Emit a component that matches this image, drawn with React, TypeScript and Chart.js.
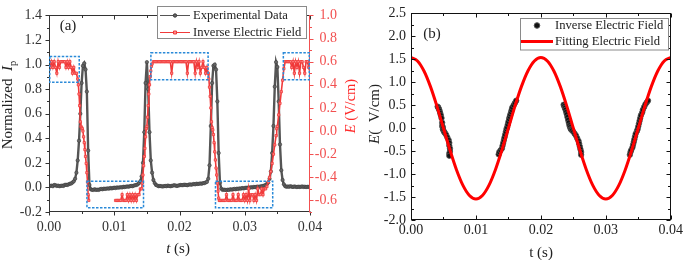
import React, { useEffect, useRef } from "react";
import { Chart, registerables } from "chart.js";

Chart.register(...registerables);

const SERIF = '"Liberation Serif", "Times New Roman", Times, serif';

// ---------------- Panel (a) data ----------------
// Experimental normalized Ip, sampled every expStep seconds starting at t = 0
const expStep = 0.0002;
const expIp = [
  0.01, 0.012, 0.015, 0.01, 0.02, 0.018, 0.012, 0.015, 0.01, 0.012, 0.015, 0.012, 0.02, 0.022, 0.02, 0.025, 0.03, 0.032, 0.04, 0.05,
  0.07, 0.12, 0.22, 0.38, 0.6, 0.85, 0.99, 1.01, 0.96, 0.78, 0.3, 0.02, -0.015,
  -0.02, -0.02, -0.015, -0.02, -0.018, -0.02, -0.015, -0.012, -0.015, -0.01, -0.012, -0.01, -0.008, -0.01, -0.005, -0.008, -0.005,
  -0.002, -0.005, 0.0, -0.002, 0.0, 0.002, 0.0, 0.005, 0.003, 0.006, 0.008, 0.006, 0.01, 0.012, 0.01, 0.015, 0.018,
  0.02, 0.025, 0.035, 0.05, 0.09, 0.2, 0.45, 0.85, 1.02, 0.8, 0.45, 0.22, 0.12, 0.06, 0.035,
  0.02, 0.015, 0.01, 0.012, 0.01, 0.008, 0.01, 0.012, 0.01, 0.015, 0.012, 0.01, 0.012, 0.015, 0.018, 0.015, 0.012, 0.015, 0.018, 0.02,
  0.018, 0.02, 0.022, 0.02, 0.018, 0.022, 0.025, 0.022, 0.025, 0.028, 0.025, 0.03, 0.028, 0.03, 0.032, 0.03, 0.035, 0.035, 0.04,
  0.045, 0.07, 0.18, 0.5, 0.85, 0.99, 1.0, 0.96, 0.7, 0.28, 0.04, -0.01,
  -0.02, -0.018, -0.02, -0.022, -0.018, -0.02, -0.015, -0.018, -0.015, -0.012, -0.015, -0.01, -0.012, -0.008, -0.01, -0.005,
  -0.008, -0.005, -0.002, -0.004, 0.0, -0.002, 0.002, 0.0, 0.004, 0.002, 0.005, 0.006, 0.005, 0.008, 0.01, 0.012,
  0.015, 0.02, 0.028, 0.04, 0.07, 0.13, 0.28, 0.5, 0.82, 1.02, 0.98, 0.7, 0.35, 0.14, 0.06, 0.025,
  0.01, 0.005, 0.008, 0.005, 0.01, 0.006, 0.004, 0.008, 0.005, 0.003, 0.006, 0.004, 0.005, 0.008, 0.004, 0.006, 0.003, 0.005, 0.004, 0.006,
];

// Inverse electric field (right axis), null = no data
const invT = [
  0, 0.0002, 0.0004, 0.0006, 0.0008, 0.001, 0.0012, 0.0014, 0.0016, 0.0018, 0.002, 0.0022, 0.0024, 0.0026, 0.0028, 0.003, 0.0032, 0.0034, 0.0036, 0.0038, 0.004, 0.0042,
  0.0044, 0.0045, 0.0046, 0.0047, 0.0048, 0.0049, 0.005, 0.0051, 0.0052, 0.0053, 0.0054, 0.0055, 0.0056, 0.0057, 0.0058, 0.0059, 0.006, 0.0061,
  0.008,
  0.0102, 0.0104, 0.0106, 0.0108, 0.011, 0.0112, 0.0114, 0.0116, 0.0118, 0.012, 0.0122, 0.0124, 0.0126, 0.0128, 0.013, 0.0132, 0.0134, 0.0136, 0.0138, 0.014, 0.0142,
  0.0143, 0.0144, 0.0145, 0.0146, 0.0147, 0.0148, 0.0149, 0.015, 0.0151, 0.0152, 0.0153, 0.0154, 0.0155, 0.0156, 0.0157, 0.0158, 0.016,
  0.0162, 0.0164, 0.0166, 0.0168, 0.017, 0.0172, 0.0174, 0.0176, 0.0178, 0.018, 0.0182, 0.0184, 0.0186, 0.0188, 0.019, 0.0192, 0.0194, 0.0196, 0.0198, 0.02, 0.0202,
  0.0204, 0.0206, 0.0208, 0.021, 0.0212, 0.0214, 0.0216, 0.0218, 0.022, 0.0222, 0.0224, 0.0226, 0.0228, 0.023, 0.0232, 0.0234, 0.0236, 0.0238, 0.024, 0.0242, 0.0244,
  0.0245, 0.0246, 0.0247, 0.0248, 0.0249, 0.025, 0.0251, 0.0252, 0.0253, 0.0254, 0.0255, 0.0256, 0.0257, 0.0258, 0.0259, 0.026, 0.0261,
  0.0262, 0.0264, 0.0266, 0.0268, 0.027, 0.0272, 0.0274, 0.0276, 0.0278, 0.028, 0.0282, 0.0284, 0.0286, 0.0288, 0.029, 0.0292, 0.0294, 0.0296,
  0.0298, 0.03, 0.0302, 0.0304, 0.0306, 0.0308, 0.031, 0.0312, 0.0314, 0.0316, 0.0318, 0.032, 0.0322, 0.0324, 0.0326, 0.0328, 0.033, 0.0332,
  0.0334, 0.0336, 0.0338, 0.034, 0.0342, 0.0344, 0.0346, 0.0348, 0.0349, 0.035, 0.0352, 0.0354, 0.0356, 0.0358, 0.036, 0.0362,
  0.0364, 0.0366, 0.0368, 0.037, 0.0372, 0.0374, 0.0376, 0.0378, 0.038, 0.0382, 0.0384, 0.0386, 0.0388, 0.039, 0.0392, 0.0394, 0.0396, 0.0398, 0.04,
];
const invE = [
  0.6, 0.55, 0.6, 0.55, 0.6, 0.55, 0.5, 0.6, 0.55, 0.6, 0.6, 0.6, 0.6, 0.55, 0.6, 0.55, 0.6, 0.55, 0.5, 0.55, 0.5, 0.5,
  0.45, 0.4, 0.32, 0.22, 0.08, 0.04, 0.03, 0.02, 0.0, -0.05, -0.1, -0.16, -0.22, -0.28, -0.36, -0.44, -0.55, -0.6,
  null,
  -0.6, -0.6, -0.6, -0.6, -0.6, -0.55, -0.6, -0.6, -0.6, -0.55, -0.6, -0.55, -0.6, -0.55, -0.6, -0.55, -0.6, -0.55, -0.55, -0.5, -0.5,
  -0.45, -0.38, -0.3, -0.22, -0.15, -0.05, 0.02, 0.04, 0.12, 0.22, 0.32, 0.4, 0.47, 0.52, 0.56, 0.58, 0.6,
  0.6, 0.6, 0.6, 0.6, 0.6, 0.6, 0.6, 0.6, 0.6, 0.6, 0.6, 0.6, 0.6, 0.5, 0.6, 0.6, 0.6, 0.6, 0.6, 0.6, 0.6,
  0.6, 0.6, 0.6, 0.6, 0.5, 0.6, 0.6, 0.6, 0.6, 0.6, 0.5, 0.6, 0.55, 0.6, 0.5, 0.55, 0.6, 0.55, 0.5, 0.55, 0.5,
  0.45, 0.38, 0.3, 0.2, 0.08, 0.03, 0.01, -0.03, -0.1, -0.18, -0.25, -0.32, -0.38, -0.45, -0.52, -0.58, -0.6,
  -0.6, -0.6, -0.6, -0.6, -0.6, -0.55, -0.6, -0.6, -0.6, -0.6, -0.55, -0.6, -0.6, -0.6, -0.55, -0.6, -0.6, -0.6,
  -0.55, -0.6, -0.55, -0.6, -0.5, -0.6, -0.55, -0.55, -0.6, -0.55, -0.6, -0.5, -0.55, -0.55, -0.5, -0.55, -0.5, -0.5,
  -0.48, -0.44, -0.4, -0.35, -0.28, -0.2, -0.12, -0.04, 0.02, 0.04, 0.14, 0.24, 0.34, 0.44, 0.54, 0.6,
  0.6, 0.6, 0.6, 0.6, 0.55, 0.6, 0.5, 0.6, 0.55, 0.6, 0.5, 0.6, 0.6, 0.55, 0.5, 0.6, 0.6, 0.55, 0.6,
];

const tTicks = [0, 0.01, 0.02, 0.03, 0.04];
const tMinor = [0.005, 0.015, 0.025, 0.035];
const ipTicks = [-0.2, 0, 0.2, 0.4, 0.6, 0.8, 1.0, 1.2, 1.4];
const ipMinor = [-0.1, 0.1, 0.3, 0.5, 0.7, 0.9, 1.1, 1.3];
const eTicksA = [-0.6, -0.4, -0.2, 0, 0.2, 0.4, 0.6, 0.8, 1.0];
const eMinorA = [-0.7, -0.5, -0.3, -0.1, 0.1, 0.3, 0.5, 0.7, 0.9];

// dashed highlight boxes (t range and Ip range)
const boxT0 = [0, 0.0057, 0.0155, 0.0254, 0.0358];
const boxT1 = [0.00475, 0.0146, 0.0245, 0.0344, 0.04];
const boxIp0 = [0.855, -0.165, 0.877, -0.165, 0.877];
const boxIp1 = [1.065, 0.05, 1.097, 0.05, 1.097];

// ---------------- Panel (b) data ----------------
const fitT = [
  0, 0.001, 0.002, 0.003, 0.004, 0.005, 0.006, 0.007, 0.008, 0.009, 0.01, 0.011, 0.012, 0.013, 0.014, 0.015, 0.016, 0.017, 0.018, 0.019, 0.02,
  0.021, 0.022, 0.023, 0.024, 0.025, 0.026, 0.027, 0.028, 0.029, 0.03, 0.031, 0.032, 0.033, 0.034, 0.035, 0.036, 0.037, 0.038, 0.039, 0.04,
];
const fitE = [
  1.54, 1.465, 1.246, 0.905, 0.476, 0, -0.476, -0.905, -1.246, -1.465, -1.54, -1.465, -1.246, -0.905, -0.476, 0, 0.476, 0.905, 1.246, 1.465, 1.54,
  1.465, 1.246, 0.905, 0.476, 0, -0.476, -0.905, -1.246, -1.465, -1.54, -1.465, -1.246, -0.905, -0.476, 0, 0.476, 0.905, 1.246, 1.465, 1.54,
];
const ptsT = [
  0.0041, 0.0042, 0.0043, 0.0044, 0.0045, 0.0046, 0.0047, 0.0048, 0.0048, 0.0049, 0.0049, 0.005, 0.0051, 0.0052, 0.0054, 0.0056, 0.0058, 0.0059, 0.0059, 0.006, 0.006, 0.0059, 0.0059,
  0.0135, 0.0136, 0.0138, 0.014, 0.0141, 0.0142, 0.0143, 0.0144, 0.0145, 0.0146, 0.0147, 0.0148, 0.0149, 0.015, 0.0151, 0.0152, 0.0153, 0.0154, 0.0155, 0.0156, 0.0158, 0.016, 0.0162,
  0.0235, 0.0236, 0.0237, 0.0238, 0.0239, 0.024, 0.0241, 0.0242, 0.0243, 0.0244, 0.0245, 0.0246, 0.0247, 0.0248, 0.025, 0.0252, 0.0254, 0.0256, 0.0258, 0.0259, 0.026, 0.0261, 0.0262, 0.0262,
  0.0337, 0.0338, 0.0339, 0.0341, 0.0342, 0.0343, 0.0344, 0.0345, 0.0346, 0.0348, 0.0349, 0.035, 0.0351, 0.0352, 0.0353, 0.0354, 0.0356, 0.0357, 0.0359, 0.0361, 0.0363, 0.0365,
];
const ptsE = [
  0.47, 0.45, 0.42, 0.38, 0.33, 0.28, 0.22, 0.12, 0.05, 0.02, -0.02, -0.05, -0.08, -0.1, -0.14, -0.2, -0.26, -0.32, -0.38, -0.44, -0.5, -0.55, -0.6,
  -0.57, -0.52, -0.48, -0.44, -0.38, -0.32, -0.26, -0.2, -0.14, -0.08, -0.02, 0.02, 0.08, 0.14, 0.2, 0.25, 0.3, 0.35, 0.4, 0.45, 0.5, 0.55, 0.6,
  0.51, 0.48, 0.44, 0.4, 0.35, 0.3, 0.24, 0.18, 0.12, 0.06, 0.02, -0.02, -0.03, -0.05, -0.08, -0.12, -0.16, -0.22, -0.28, -0.34, -0.4, -0.46, -0.52, -0.58,
  -0.58, -0.52, -0.48, -0.42, -0.36, -0.3, -0.24, -0.18, -0.12, -0.06, -0.02, 0.04, 0.1, 0.16, 0.22, 0.28, 0.34, 0.4, 0.46, 0.52, 0.56, 0.6,
];
const eTicksB = [-2, -1.5, -1, -0.5, 0, 0.5, 1, 1.5, 2, 2.5];
const eMinorB = [-1.75, -1.25, -0.75, -0.25, 0.25, 0.75, 1.25, 1.75, 2.25];

// ---------------- helpers ----------------
type Part = { t: string; italic?: boolean; sub?: boolean };
type RichText = { x: number; y: number; rot?: number; size: number; color: string; parts: Part[] };

function drawRich(ctx: CanvasRenderingContext2D, r: RichText) {
  ctx.save();
  ctx.translate(r.x, r.y);
  if (r.rot) ctx.rotate(r.rot);
  let total = 0;
  const fonts = r.parts.map((p) => {
    const size = p.sub ? r.size * 0.7 : r.size;
    const f = `${p.italic ? "italic " : ""}${size}px ${SERIF}`;
    ctx.font = f;
    const w = ctx.measureText(p.t).width;
    total += w;
    return { f, w };
  });
  let x = -total / 2;
  ctx.textBaseline = "middle";
  ctx.textAlign = "left";
  ctx.fillStyle = r.color;
  r.parts.forEach((p, i) => {
    ctx.font = fonts[i].f;
    ctx.fillText(p.t, x, p.sub ? r.size * 0.32 : 0);
    x += fonts[i].w;
  });
  ctx.restore();
}

type AxisSpec = {
  side: "left" | "right" | "top" | "bottom";
  scale: string;
  majors: number[];
  minors: number[];
  dir: "in" | "out";
  color: string;
};

function framePlugin(specs: AxisSpec[], extra: (chart: any) => void) {
  return {
    id: "frameAndText",
    afterDatasetsDraw(chart: any) {
      const ctx: CanvasRenderingContext2D = chart.ctx;
      const a = chart.chartArea;
      const L = Math.round(a.left) + 0.5;
      const R = Math.round(a.right) - 0.5;
      const T = Math.round(a.top) + 0.5;
      const B = Math.round(a.bottom) - 0.5;
      ctx.save();
      ctx.lineWidth = 1;
      for (const s of specs) {
        const sc = chart.scales[s.scale];
        ctx.strokeStyle = s.color;
        ctx.beginPath();
        if (s.side === "left") { ctx.moveTo(L, T - 0.5); ctx.lineTo(L, B + 0.5); }
        if (s.side === "right") { ctx.moveTo(R, T - 0.5); ctx.lineTo(R, B + 0.5); }
        if (s.side === "top") { ctx.moveTo(L - 0.5, T); ctx.lineTo(R + 0.5, T); }
        if (s.side === "bottom") { ctx.moveTo(L - 0.5, B); ctx.lineTo(R + 0.5, B); }
        const sgn = s.dir === "out" ? 1 : -1;
        const mark = (v: number, len: number) => {
          const p = Math.round(sc.getPixelForValue(v)) + 0.5;
          if (s.side === "left") { ctx.moveTo(L, p); ctx.lineTo(L - sgn * len, p); }
          if (s.side === "right") { ctx.moveTo(R, p); ctx.lineTo(R + sgn * len, p); }
          if (s.side === "top") { ctx.moveTo(p, T); ctx.lineTo(p, T - sgn * len); }
          if (s.side === "bottom") { ctx.moveTo(p, B); ctx.lineTo(p, B + sgn * len); }
        };
        s.majors.forEach((v) => mark(v, 4));
        s.minors.forEach((v) => mark(v, 2.5));
        ctx.stroke();
      }
      ctx.restore();
      extra(chart);
    },
  };
}

function fixedTicks(values: number[]) {
  return (scale: any) => {
    scale.ticks = values.map((v) => ({ value: v }));
  };
}

const LEGEND_FONT = `12.6px ${SERIF}`;

// ---------------- Panel (a) ----------------
function PanelA() {
  const ref = useRef<HTMLCanvasElement | null>(null);
  useEffect(() => {
    const canvas = ref.current!;
    const expData = expIp.map((v, i) => ({ x: i * expStep, y: v }));
    const invData = invT.map((t, i) => ({ x: t, y: invE[i] }));
    const red = "#f03a3a";
    const grey = "#555555";

    const specs: AxisSpec[] = [
      { side: "left", scale: "y", majors: ipTicks, minors: ipMinor, dir: "out", color: "#333" },
      { side: "bottom", scale: "x", majors: tTicks, minors: tMinor, dir: "out", color: "#333" },
      { side: "top", scale: "x", majors: tTicks, minors: tMinor, dir: "in", color: "#333" },
      { side: "right", scale: "y2", majors: eTicksA, minors: eMinorA, dir: "out", color: "#f25050" },
    ];

    const extra = (chart: any) => {
      const ctx: CanvasRenderingContext2D = chart.ctx;
      const xs = chart.scales.x;
      const ys = chart.scales.y;
      ctx.save();
      // dashed boxes
      ctx.strokeStyle = "#2a8ad8";
      ctx.lineWidth = 1.5;
      ctx.setLineDash([2.5, 1.5]);
      boxT0.forEach((t0, i) => {
        const x0 = xs.getPixelForValue(t0);
        const x1 = xs.getPixelForValue(boxT1[i]);
        const y0 = ys.getPixelForValue(boxIp1[i]);
        const y1 = ys.getPixelForValue(boxIp0[i]);
        ctx.strokeRect(x0 + 0.75, y0, x1 - x0 - 1.5, y1 - y0);
      });
      ctx.setLineDash([]);
      // legend
      ctx.fillStyle = "#fff";
      ctx.fillRect(157.5, 6.5, 149, 32);
      ctx.strokeStyle = "#8a8a8a";
      ctx.lineWidth = 1;
      ctx.strokeRect(157.5, 6.5, 149, 32);
      const ds = chart.data.datasets;
      const rows = [
        { y: 15.5, d: ds[1] },
        { y: 32.5, d: ds[0] },
      ];
      rows.forEach((r) => {
        ctx.strokeStyle = r.d.borderColor;
        ctx.lineWidth = 1;
        ctx.beginPath();
        ctx.moveTo(160, r.y);
        ctx.lineTo(190, r.y);
        ctx.stroke();
        ctx.fillStyle = r.d.pointBackgroundColor;
        ctx.strokeStyle = r.d.pointBorderColor;
        ctx.beginPath();
        if (r.d.pointStyle === "rect") ctx.rect(173.5, r.y - 1.5, 3, 3);
        else ctx.arc(175, r.y, 1.7, 0, Math.PI * 2);
        ctx.fill();
        ctx.stroke();
        ctx.font = LEGEND_FONT;
        ctx.fillStyle = "#222";
        ctx.textBaseline = "middle";
        ctx.textAlign = "left";
        ctx.fillText(r.d.label, 193, r.y + 0.5);
      });
      ctx.restore();
      // texts
      const texts: RichText[] = [
        { x: 68, y: 26, size: 15, color: "#222", parts: [{ t: "(a)" }] },
        { x: 8, y: 105, rot: -Math.PI / 2, size: 15, color: "#222", parts: [{ t: "Normalized  " }, { t: "I", italic: true }, { t: "p", sub: true }] },
        { x: 351, y: 106, rot: -Math.PI / 2, size: 14.5, color: "#ff2a2a", parts: [{ t: "E", italic: true }, { t: " (V/cm)" }] },
        { x: 178, y: 249, size: 15, color: "#222", parts: [{ t: "t", italic: true }, { t: " (s)" }] },
      ];
      texts.forEach((t) => drawRich(ctx, t));
    };

    const tickFont = { family: SERIF, size: 14 };
    const chart = new Chart(canvas, {
      type: "line",
      data: {
        datasets: [
          {
            label: "Inverse Electric Field",
            data: invData,
            yAxisID: "y2",
            borderColor: red,
            borderWidth: 1.6,
            pointStyle: "rect",
            pointRadius: 1.6,
            pointBackgroundColor: "#ff8a8a",
            pointBorderColor: red,
            pointBorderWidth: 0.8,
            spanGaps: false,
            order: 1,
          } as any,
          {
            label: "Experimental Data",
            data: expData,
            yAxisID: "y",
            borderColor: grey,
            borderWidth: 2.4,
            pointStyle: "circle",
            pointRadius: 1.7,
            pointBackgroundColor: "#666",
            pointBorderColor: "#3a3a3a",
            pointBorderWidth: 0.6,
            order: 2,
          } as any,
        ],
      },
      options: {
        responsive: false,
        animation: false,
        devicePixelRatio: 1,
        layout: { padding: { left: 0, right: 23, top: 6, bottom: 0 }, autoPadding: false } as any,
        plugins: { legend: { display: false }, tooltip: { enabled: false } },
        scales: {
          x: {
            type: "linear",
            position: "bottom",
            min: 0,
            max: 0.04,
            afterBuildTicks: fixedTicks(tTicks),
            afterFit: (s: any) => { s.height = 48; },
            grid: { display: false, drawTicks: false },
            border: { display: false },
            ticks: { font: tickFont, color: "#333", padding: 7, autoSkip: false, maxRotation: 0, callback: (v: any) => Number(v).toFixed(2) },
          },
          y: {
            type: "linear",
            position: "left",
            min: -0.2,
            max: 1.4,
            afterBuildTicks: fixedTicks(ipTicks),
            afterFit: (s: any) => { s.width = 49; },
            grid: { display: false, drawTicks: false },
            border: { display: false },
            ticks: { font: tickFont, color: "#333", padding: 7, callback: (v: any) => Number(v).toFixed(1) },
          },
          y2: {
            type: "linear",
            position: "right",
            min: -0.7,
            max: 1.0,
            afterBuildTicks: fixedTicks(eTicksA),
            afterFit: (s: any) => { s.width = 27; },
            grid: { display: false, drawTicks: false },
            border: { display: false },
            ticks: { font: tickFont, color: "#f25050", padding: 6, crossAlign: "far", callback: (v: any) => Number(v).toFixed(1) },
          },
        } as any,
      },
      plugins: [framePlugin(specs, extra)],
    });
    return () => chart.destroy();
  }, []);
  return (
    <canvas
      ref={ref}
      width={360}
      height={260}
      style={{ position: "absolute", left: 0, top: 0, width: 360, height: 260 }}
    />
  );
}

// ---------------- Panel (b) ----------------
function PanelB() {
  const ref = useRef<HTMLCanvasElement | null>(null);
  useEffect(() => {
    const canvas = ref.current!;
    const fitData = fitT.map((t, i) => ({ x: t, y: fitE[i] }));
    const ptData = ptsT.map((t, i) => ({ x: t, y: ptsE[i] }));
    const specs: AxisSpec[] = [
      { side: "left", scale: "y", majors: eTicksB, minors: eMinorB, dir: "in", color: "#111" },
      { side: "right", scale: "y", majors: eTicksB, minors: eMinorB, dir: "in", color: "#111" },
      { side: "bottom", scale: "x", majors: tTicks, minors: tMinor, dir: "in", color: "#111" },
      { side: "top", scale: "x", majors: tTicks, minors: tMinor, dir: "in", color: "#111" },
    ];
    const extra = (chart: any) => {
      const ctx: CanvasRenderingContext2D = chart.ctx;
      const ds = chart.data.datasets;
      ctx.save();
      ctx.fillStyle = "#fff";
      ctx.fillRect(160.5, 18.5, 148, 31.5);
      ctx.strokeStyle = "#8a8a8a";
      ctx.lineWidth = 1;
      ctx.strokeRect(160.5, 18.5, 148, 31.5);
      // row 1: scatter marker
      ctx.fillStyle = ds[1].pointBackgroundColor;
      ctx.strokeStyle = ds[1].pointBorderColor;
      ctx.beginPath();
      ctx.arc(177, 25.5, 2.8, 0, Math.PI * 2);
      ctx.fill();
      ctx.stroke();
      // row 2: line
      ctx.strokeStyle = ds[0].borderColor;
      ctx.lineWidth = 3;
      ctx.beginPath();
      ctx.moveTo(161, 41.5);
      ctx.lineTo(193, 41.5);
      ctx.stroke();
      ctx.font = LEGEND_FONT;
      ctx.fillStyle = "#222";
      ctx.textBaseline = "middle";
      ctx.textAlign = "left";
      ctx.fillText(ds[1].label, 195, 26);
      ctx.fillText(ds[0].label, 195, 42);
      ctx.restore();
      const texts: RichText[] = [
        { x: 72, y: 34, size: 15, color: "#222", parts: [{ t: "(b)" }] },
        { x: 15, y: 114, rot: -Math.PI / 2, size: 15, color: "#222", parts: [{ t: "E", italic: true }, { t: "(  V/cm)" }] },
        { x: 181, y: 253, size: 15, color: "#222", parts: [{ t: "t (s)" }] },
      ];
      texts.forEach((t) => drawRich(ctx, t));
    };
    const tickFont = { family: SERIF, size: 14 };
    const chart = new Chart(canvas, {
      type: "line",
      data: {
        datasets: [
          {
            label: "Fitting Electric Field",
            data: fitData,
            borderColor: "#ff0000",
            borderWidth: 3,
            pointRadius: 0,
            cubicInterpolationMode: "monotone",
            order: 1,
          } as any,
          {
            label: "Inverse Electric Field",
            data: ptData,
            showLine: false,
            pointStyle: "circle",
            pointRadius: 2.7,
            pointBackgroundColor: "#111",
            pointBorderColor: "#555",
            pointBorderWidth: 0.8,
            order: 2,
          } as any,
        ],
      },
      options: {
        responsive: false,
        animation: false,
        devicePixelRatio: 1,
        layout: { padding: { left: 0, right: 12, top: 11, bottom: 0 }, autoPadding: false } as any,
        plugins: { legend: { display: false }, tooltip: { enabled: false } },
        scales: {
          x: {
            type: "linear",
            position: "bottom",
            min: 0,
            max: 0.04,
            afterBuildTicks: fixedTicks(tTicks),
            afterFit: (s: any) => { s.height = 40; },
            grid: { display: false, drawTicks: false },
            border: { display: false },
            ticks: { font: tickFont, color: "#222", padding: 2, autoSkip: false, maxRotation: 0, callback: (v: any) => Number(v).toFixed(2) },
          },
          y: {
            type: "linear",
            position: "left",
            min: -2,
            max: 2.5,
            afterBuildTicks: fixedTicks(eTicksB),
            afterFit: (s: any) => { s.width = 51; },
            grid: { display: false, drawTicks: false },
            border: { display: false },
            ticks: { font: tickFont, color: "#222", padding: 5, callback: (v: any) => Number(v).toFixed(1) },
          },
        } as any,
      },
      plugins: [framePlugin(specs, extra)],
    });
    return () => chart.destroy();
  }, []);
  return (
    <canvas
      ref={ref}
      width={325}
      height={260}
      style={{ position: "absolute", left: 360, top: 0, width: 325, height: 260 }}
    />
  );
}

export default function App() {
  return (
    <div style={{ position: "absolute", left: 0, top: 0, width: 685, height: 260, background: "#fff" }}>
      <PanelA />
      <PanelB />
    </div>
  );
}
